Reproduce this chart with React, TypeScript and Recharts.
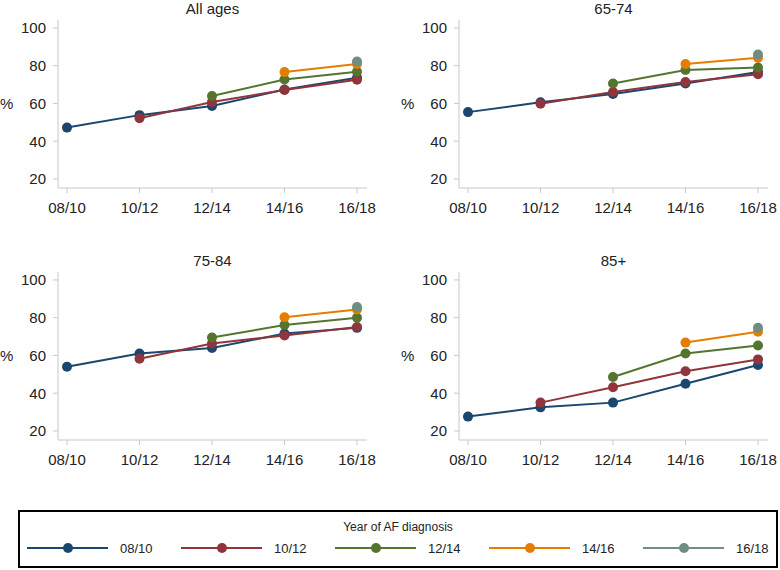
import { CartesianGrid, Line, LineChart, XAxis, YAxis } from "recharts";

const periods = ["08/10", "10/12", "12/14", "14/16", "16/18"];
const seriesNames = ["08/10", "10/12", "12/14", "14/16", "16/18"];
const seriesColors = ["#1a476f", "#90353b", "#55752f", "#e37e00", "#6e8e84"];
const yTicks = [20, 40, 60, 80, 100];

// rows = year of AF diagnosis, columns = period
const allAges = [
  [47.2, 53.8, 58.6, 67.4, 73.6],
  [null, 52.2, 60.8, 67.1, 72.6],
  [null, null, 63.9, 72.7, 76.8],
  [null, null, null, 76.6, 80.9],
  [null, null, null, null, 82.2],
];
const age6574 = [
  [55.4, 60.6, 65.0, 70.6, 76.6],
  [null, 59.8, 66.1, 71.3, 75.5],
  [null, null, 70.6, 77.7, 79.0],
  [null, null, null, 80.9, 84.2],
  [null, null, null, null, 85.9],
];
const age7584 = [
  [54.0, 61.0, 63.9, 71.6, 74.6],
  [null, 58.2, 66.3, 70.6, 75.1],
  [null, null, 69.5, 76.1, 80.0],
  [null, null, null, 80.2, 84.3],
  [null, null, null, null, 85.6],
];
const age85 = [
  [27.6, 32.5, 35.0, 45.0, 54.9],
  [null, 35.0, 43.1, 51.6, 57.9],
  [null, null, 48.6, 61.0, 65.3],
  [null, null, null, 66.8, 72.5],
  [null, null, null, null, 74.6],
];

const panels = [
  { title: "All ages", values: allAges, left: 0, top: 0 },
  { title: "65-74", values: age6574, left: 401, top: 0 },
  { title: "75-84", values: age7584, left: 0, top: 252 },
  { title: "85+", values: age85, left: 401, top: 252 },
];

const FONT = "'Liberation Sans', Arial, sans-serif";
const AXIS = "#c8c8c8";

function Panel({ title, values }: { title: string; values: (number | null)[][] }) {
  const data = periods.map((p, i) => {
    const row: Record<string, string | number | null> = { period: p };
    seriesNames.forEach((s, k) => {
      row[s] = values[k][i];
    });
    return row;
  });
  return (
    <div style={{ position: "relative", width: 376, height: 240 }}>
      <div
        style={{
          position: "absolute",
          left: 58,
          width: 309,
          top: 0,
          textAlign: "center",
          fontSize: 15,
          lineHeight: "17px",
          color: "#222",
          fontFamily: FONT,
        }}
      >
        {title}
      </div>
      <LineChart
        width={376}
        height={240}
        data={data}
        margin={{ top: 20, right: 9, bottom: 22, left: 0 }}
        style={{ fontFamily: FONT }}
      >
        <CartesianGrid stroke="none" />
        <XAxis
          dataKey="period"
          padding={{ left: 9, right: 10 }}
          stroke={AXIS}
          tickSize={5}
          tickMargin={9}
          height={30}
          tick={{ fill: "#222", fontSize: 15 }}
        />
        <YAxis
          domain={[15.2, 104.2]}
          ticks={yTicks}
          width={58}
          stroke={AXIS}
          tickSize={5}
          tickMargin={7}
          tick={{ fill: "#222", fontSize: 15 }}
          label={{ value: "%", position: "insideLeft", offset: 0, angle: 0, fill: "#222", fontSize: 15 }}
        />
        {seriesNames.map((s, k) => (
          <Line
            key={s}
            dataKey={s}
            stroke={seriesColors[k]}
            strokeWidth={2}
            dot={{ r: 5, fill: seriesColors[k], stroke: seriesColors[k], strokeWidth: 0 }}
            activeDot={false}
            isAnimationActive={false}
          />
        ))}
      </LineChart>
    </div>
  );
}

function YearLegend() {
  return (
    <svg width={780} height={570} style={{ position: "absolute", left: 0, top: 0, pointerEvents: "none" }}>
      <rect x={19} y={511} width={758} height={56} fill="none" stroke="#000" strokeWidth={2} />
      <text x={398} y={531} textAnchor="middle" fontSize={12} fill="#222" fontFamily={FONT}>
        Year of AF diagnosis
      </text>
      {seriesNames.map((s, k) => {
        const x0 = 27 + k * 154;
        return (
          <g key={s}>
            <line x1={x0} x2={x0 + 81} y1={548} y2={548} stroke={seriesColors[k]} strokeWidth={2} />
            <circle cx={x0 + 41} cy={548} r={5} fill={seriesColors[k]} />
            <text x={x0 + 93} y={553} fontSize={13} fill="#222" fontFamily={FONT}>
              {s}
            </text>
          </g>
        );
      })}
    </svg>
  );
}

export default function App() {
  return (
    <div
      style={{
        position: "fixed",
        left: 0,
        top: 0,
        width: 780,
        height: 570,
        background: "#fff",
        overflow: "hidden",
      }}
    >
      {panels.map((p) => (
        <div key={p.title} style={{ position: "absolute", left: p.left, top: p.top }}>
          <Panel title={p.title} values={p.values} />
        </div>
      ))}
      <YearLegend />
    </div>
  );
}
